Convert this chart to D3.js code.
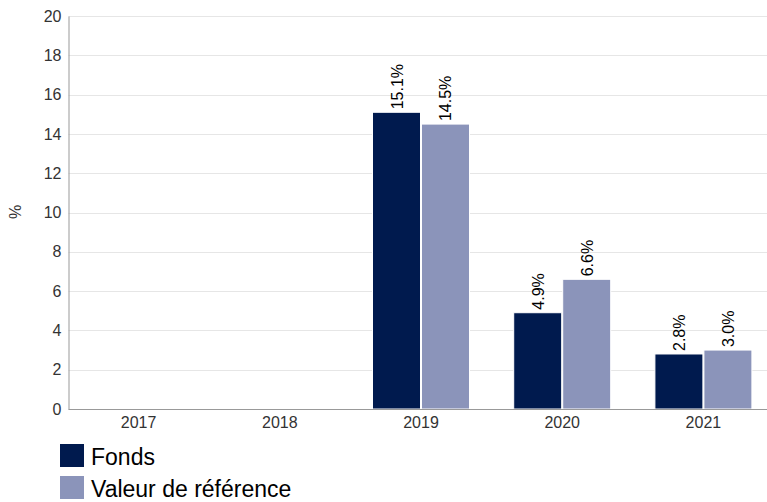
<!DOCTYPE html>
<html><head><meta charset="utf-8">
<script src="https://cdn.jsdelivr.net/npm/d3@7"></script>
<style>
html,body{margin:0;padding:0;background:#fff;}
svg{display:block;font-family:"Liberation Sans",Arial,sans-serif;}
</style></head>
<body>
<svg id="chart" width="767" height="502"></svg>
<script>
const categories = ["2017","2018","2019","2020","2021"];
const seriesNames = ["Fonds","Valeur de référence"];
const fondsValues = [null, null, 15.1, 4.9, 2.8];
const referenceValues = [null, null, 14.5, 6.6, 3.0];
const seriesColors = ["#001a4e", "#8b94ba"];
const yTicks = [0,2,4,6,8,10,12,14,16,18,20];

(function(){
const svg = d3.select("#chart");
const plotLeft = 68.5, plotTop = 16, plotBottom = 409, rightEdge = 767;

const y = d3.scaleLinear().domain([0,20]).range([plotBottom, plotTop]);
const x0 = d3.scaleBand().domain(categories).range([68, 774]).paddingInner(0.306).paddingOuter(0.153);
const x1 = d3.scaleBand().domain(seriesNames).range([0, x0.bandwidth()]);

// gridlines
svg.append("g").selectAll("line").data(yTicks.filter(d=>d>0)).join("line")
  .attr("x1", plotLeft).attr("x2", rightEdge)
  .attr("y1", d=>Math.round(y(d))+0.5).attr("y2", d=>Math.round(y(d))+0.5)
  .attr("stroke", "#e6e6e6").attr("stroke-width", 1);

// y axis
const yAxis = d3.axisLeft(y).tickValues(yTicks).tickSize(0).tickPadding(7);
const gy = svg.append("g").attr("transform", `translate(${plotLeft},0)`).call(yAxis);
gy.select(".domain").attr("stroke", "#999");
gy.selectAll("text").attr("font-size", 16).attr("fill", "#333").attr("font-family", "Liberation Sans, Arial, sans-serif");

// bars
const data = categories.map((c,i)=>({cat:c, vals:[fondsValues[i], referenceValues[i]]}));
const groups = svg.append("g").selectAll("g").data(data).join("g")
  .attr("transform", d=>`translate(${x0(d.cat)},0)`);
groups.selectAll("rect").data(d=>d.vals.map((v,j)=>({v, name:seriesNames[j], j})).filter(e=>e.v!==null))
  .join("rect")
  .attr("x", e=>x1(e.name)+0.5)
  .attr("width", x1.bandwidth()-1)
  .attr("y", e=>y(e.v))
  .attr("height", e=>plotBottom - y(e.v))
  .attr("fill", e=>seriesColors[e.j])
  .attr("stroke", "#ffffff").attr("stroke-width", 1);
groups.selectAll("text").data(d=>d.vals.map((v,j)=>({v, name:seriesNames[j], j})).filter(e=>e.v!==null))
  .join("text")
  .attr("transform", e=>`translate(${x1(e.name)+x1.bandwidth()/2+6},${y(e.v)-3}) rotate(-90)`)
  .attr("font-size", 16).attr("fill", "#000")
  .text(e=>e.v.toFixed(1)+"%");

// x axis
const xAxis = d3.axisBottom(x0).tickSize(0).tickPadding(8);
const gx = svg.append("g").attr("transform", `translate(0,${plotBottom})`).call(xAxis);
gx.select(".domain").remove();
gx.selectAll("text").attr("font-size", 16).attr("fill", "#333").attr("font-family", "Liberation Sans, Arial, sans-serif");
svg.append("line").attr("x1", plotLeft).attr("x2", rightEdge).attr("y1", plotBottom+0.5).attr("y2", plotBottom+0.5)
  .attr("stroke", "#999");

// y label
svg.append("text").attr("transform", "translate(21,212) rotate(-90)")
  .attr("text-anchor", "middle").attr("font-size", 16).attr("fill", "#333").text("%");

// legend
const legend = svg.append("g").selectAll("g").data(seriesNames).join("g")
  .attr("transform", (d,i)=>`translate(60,${444 + i*32})`);
legend.append("rect").attr("width", 24).attr("height", 23).attr("fill", (d,i)=>seriesColors[i]);
legend.append("text").attr("x", 31).attr("y", 21).attr("font-size", 23).attr("fill", "#000").text(d=>d);
})();
</script>
</body></html>
